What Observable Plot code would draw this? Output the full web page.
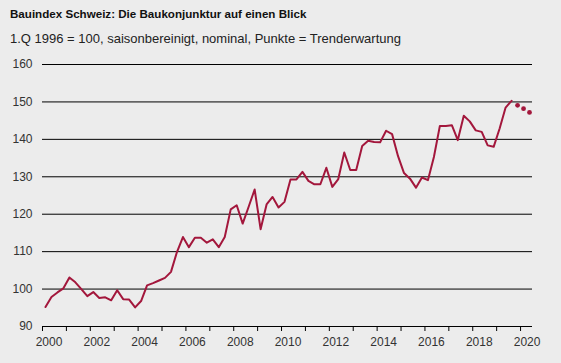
<!DOCTYPE html>
<html>
<head>
<meta charset="utf-8">
<script src="https://cdn.jsdelivr.net/npm/d3@7"></script>
<script src="https://cdn.jsdelivr.net/npm/@observablehq/plot@0.6"></script>
<style>
  html, body { margin: 0; padding: 0; background: #ececec; }
  body { width: 561px; height: 363px; overflow: hidden; font-family: "Liberation Sans", Arial, sans-serif; }
  #head { position: relative; height: 50px; }
  #title { position: absolute; left: 10px; top: 7.5px; font-size: 11.6px; line-height: 11.6px; font-weight: bold; color: #111; white-space: nowrap; }
  #subtitle { position: absolute; left: 10px; top: 31.5px; font-size: 13px; line-height: 13px; color: #222; white-space: nowrap; }
  svg { display: block; }
</style>
</head>
<body>
<div id="head">
  <div id="title">Bauindex Schweiz: Die Baukonjunktur auf einen Blick</div>
  <div id="subtitle">1.Q 1996 = 100, saisonbereinigt, nominal, Punkte = Trenderwartung</div>
</div>
<div id="chart"></div>
<script>
// Quarterly index values, 2000 Q1 .. 2019 Q3
const startYear = 2000;
const indexValues = [
  95.2, 97.9, 99.1, 100.2,
  103.1, 101.8, 100.0, 98.1,
  99.2, 97.6, 97.8, 97.0,
  99.7, 97.3, 97.2, 95.1,
  96.8, 101.0, 101.6, 102.3,
  103.0, 104.6, 109.9, 113.9,
  111.2, 113.7, 113.7, 112.4,
  113.3, 111.2, 113.9, 121.3,
  122.4, 117.5, 122.0, 126.6,
  116.0, 122.6, 124.6, 121.8,
  123.3, 129.3, 129.3, 131.3,
  128.9, 128.0, 128.0, 132.4,
  127.3, 129.4, 136.5, 131.8,
  131.8, 138.2, 139.6, 139.3,
  139.2, 142.3, 141.4, 135.5,
  131.0, 129.5, 127.1, 129.8,
  129.1, 135.3, 143.6, 143.6,
  143.8, 139.8, 146.3, 144.8,
  142.4, 142.0, 138.4, 138.0,
  142.9, 148.5, 150.3
];
// Trend expectation (dots): 2019 Q4 .. 2020 Q2
const forecastQuarters = ["2019-Q4", "2020-Q1", "2020-Q2"];
const forecastValues = [149.1, 148.2, 147.2];

const yTicks = [90, 100, 110, 120, 130, 140, 150, 160];
const xTickYears = d3.range(2000, 2021);
const xLabelYears = d3.range(2000, 2021, 2);

// quarter -> mid-quarter decimal year
const quarterTime = (y, q) => y + (q - 0.5) / 4;
const lineData = indexValues.map((v, i) => ({
  t: quarterTime(startYear + Math.floor(i / 4), (i % 4) + 1),
  v
}));
const dotData = forecastQuarters.map((s, i) => {
  const [y, q] = s.split("-Q").map(Number);
  return { t: quarterTime(y, q), v: forecastValues[i] };
});

const red = "#a3173c";

const chart = Plot.plot({
  width: 561,
  height: 313,
  marginTop: 14,
  marginBottom: 37,
  marginLeft: 42,
  marginRight: 29,
  style: { background: "transparent", fontFamily: "'Liberation Sans', Arial, sans-serif", fontSize: "12px", color: "#222" },
  x: { domain: [2000, 2020.5], axis: null },
  y: { domain: [90, 160], axis: null },
  marks: [
    Plot.ruleY(yTicks, { stroke: "#000", strokeWidth: 1 }),
    Plot.axisY(yTicks, { tickSize: 0, tickPadding: 10, fontSize: 12, fill: "#333", label: null }),
    Plot.axisX(xTickYears, { tickSize: 5, fill: "none", stroke: "#000", label: null }),
    Plot.axisX(xLabelYears, { tickSize: 0, tickPadding: 11, dx: 6.5, fontSize: 12, fill: "#333", tickFormat: d => String(d), label: null }),
    Plot.lineY(lineData, { x: "t", y: "v", stroke: red, strokeWidth: 2 }),
    Plot.dot(dotData, { x: "t", y: "v", r: 2.4, fill: red, stroke: "none" })
  ]
});
document.getElementById("chart").appendChild(chart);
</script>
</body>
</html>
